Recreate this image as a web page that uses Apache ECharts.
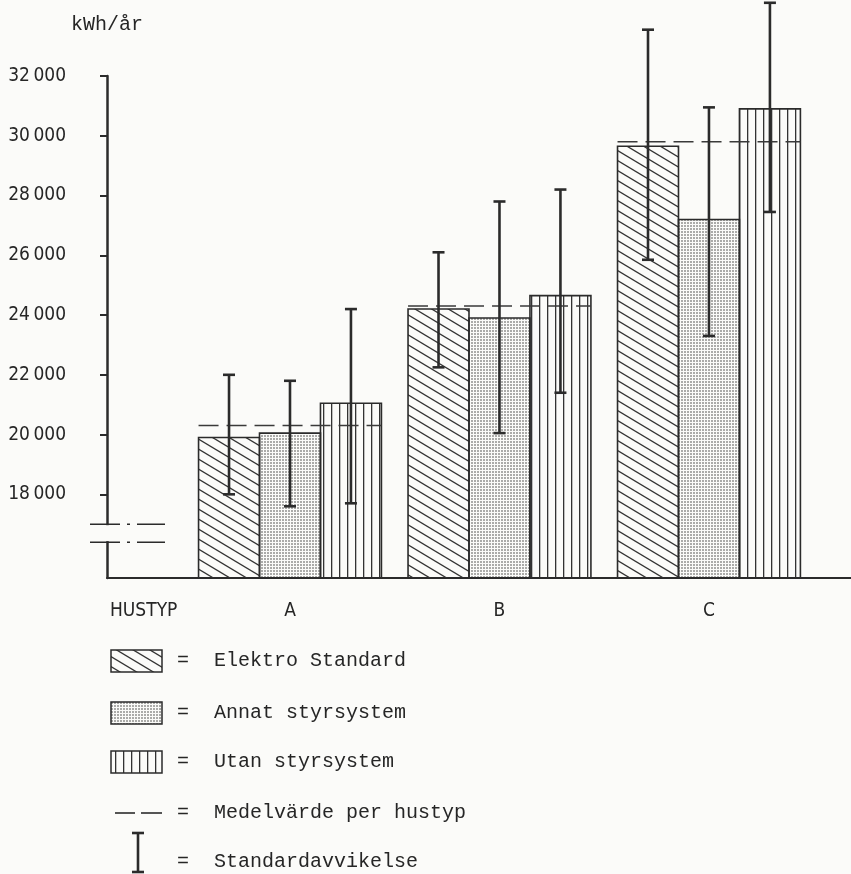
<!DOCTYPE html>
<html><head><meta charset="utf-8">
<script src="https://cdn.jsdelivr.net/npm/echarts@6/dist/echarts.min.js"></script>
<style>html,body{margin:0;padding:0;background:#fbfbf9}#c{width:851px;height:874px}</style>
</head><body><div id="c"></div>
<script>
// ---- data ----
const categories = ['A', 'B', 'C'];
const seriesNames = ['Elektro Standard', 'Annat styrsystem', 'Utan styrsystem'];
const elektro = [19900, 24200, 29650];
const annat   = [20050, 23900, 27200];
const utan    = [21050, 24650, 30900];
const medel   = [20300, 24300, 29800];
const elektroSdLow  = [18000, 22250, 25850];
const elektroSdHigh = [22000, 26100, 33550];
const annatSdLow    = [17600, 20050, 23300];
const annatSdHigh   = [21800, 27800, 30950];
const utanSdLow     = [17700, 21400, 27450];
const utanSdHigh    = [24200, 28200, 34450];
const yTicks = [18000, 20000, 22000, 24000, 26000, 28000, 30000, 32000];
const yTitle = 'kWh/år';
const xTitle = 'HUSTYP';
const meanName = 'Medelvärde per hustyp';
const sdName = 'Standardavvikelse';
const breakValues = [17000, 16400];

// ---- layout/style ----
const Y_MIN = 15200, Y_MAX = 32000;
const X_MIN = -0.8735, X_MAX = 2.678;
const BAR = 0.291;
const INK = '#2b2b2b';
const TXT = '#262626';
const SANS = "'Liberation Sans Narrow','DejaVu Sans Condensed','Liberation Sans',sans-serif";
const MONO = "'Liberation Mono','DejaVu Sans Mono',monospace";

function makeCanvas(w, h, draw) {
  const c = document.createElement('canvas'); c.width = w; c.height = h;
  const g = c.getContext('2d'); draw(g); return c;
}
const hatchImg = makeCanvas(50, 30, g => {
  g.strokeStyle = '#333'; g.lineWidth = 1.3;
  for (let k = -5; k <= 5; k++) { g.beginPath(); g.moveTo(-10, k * 10 - 6); g.lineTo(60, k * 10 + 36); g.stroke(); }
});
const dotImg = makeCanvas(3, 3, g => { g.fillStyle = 'rgba(60,60,60,0.42)'; g.fillRect(0, 0, 2, 2); });
const vertImg = makeCanvas(8, 4, g => { g.fillStyle = '#333'; g.fillRect(3, 0, 1.3, 4); });
const patterns = [
  { image: hatchImg, repeat: 'repeat' },
  { image: dotImg, repeat: 'repeat' },
  { image: vertImg, repeat: 'repeat' }
];

function barSeries(idx, values) {
  return {
    type: 'custom', name: seriesNames[idx], z: 2, clip: false,
    data: values.map((v, i) => [i, v]),
    renderItem(params, api) {
      const x = api.value(0) + (idx - 1) * BAR;
      const p0 = api.coord([x - BAR / 2, api.value(1)]);
      const p1 = api.coord([x + BAR / 2, Y_MIN]);
      return { type: 'rect', shape: { x: p0[0], y: p0[1], width: p1[0] - p0[0], height: p1[1] - p0[1] },
        style: { fill: patterns[idx], stroke: INK, lineWidth: 1.6 } };
    }
  };
}

const sdRows = [];
[[elektroSdLow, elektroSdHigh], [annatSdLow, annatSdHigh], [utanSdLow, utanSdHigh]].forEach((pair, idx) => {
  pair[0].forEach((lo, i) => sdRows.push([i, idx, lo, pair[1][i]]));
});

const chart = echarts.init(document.getElementById('c'));
chart.setOption({
  backgroundColor: '#fbfbf9',
  animation: false,
  grid: { left: 107, right: 0, top: 76, bottom: 296, containLabel: false, outerBoundsMode: 'none' },
  xAxis: {
    type: 'value', min: X_MIN, max: X_MAX,
    axisLine: { show: true, onZero: false, lineStyle: { color: INK, width: 2 } },
    axisTick: { show: false }, splitLine: { show: false },
    axisLabel: { customValues: [0, 1, 2], formatter: v => categories[Math.round(v)], margin: 24,
      fontSize: 19, fontFamily: SANS, color: TXT },
    name: xTitle, nameLocation: 'start', nameGap: -3,
    nameTextStyle: { align: 'left', verticalAlign: 'top', padding: [24, 0, 0, 0], fontSize: 19, fontFamily: SANS, color: TXT }
  },
  yAxis: {
    type: 'value', min: Y_MIN, max: Y_MAX,
    axisLine: { show: true, onZero: false, lineStyle: { color: INK, width: 2.5 } },
    axisTick: { show: true, customValues: yTicks, length: 7, lineStyle: { color: INK, width: 2 } },
    splitLine: { show: false },
    axisLabel: { customValues: yTicks, margin: 41, fontSize: 19, fontFamily: SANS, color: TXT,
      formatter: v => String(Math.floor(v / 1000)) + '\u2009000' },
    name: yTitle, nameLocation: 'end', nameGap: 41,
    nameTextStyle: { fontSize: 20, fontFamily: MONO, color: TXT, align: 'center' }
  },
  series: [
    barSeries(0, elektro), barSeries(1, annat), barSeries(2, utan),
    {
      type: 'custom', name: meanName, z: 3, clip: false,
      data: medel.map((v, i) => [i, v]),
      renderItem(params, api) {
        const a = api.coord([api.value(0) - 1.5 * BAR, api.value(1)]);
        const b = api.coord([api.value(0) + 1.5 * BAR, api.value(1)]);
        return { type: 'line', shape: { x1: a[0], y1: a[1], x2: b[0], y2: b[1] },
          style: { stroke: '#3a3a3a', lineWidth: 1.5, lineDash: [20, 8] } };
      }
    },
    {
      type: 'custom', name: sdName, z: 4, clip: false,
      data: sdRows, encode: { x: 0, y: [2, 3] },
      renderItem(params, api) {
        const x = api.value(0) + (api.value(1) - 1) * BAR;
        const t = api.coord([x, api.value(3)]);
        const b = api.coord([x, api.value(2)]);
        const s = { stroke: INK, lineWidth: 2.6 };
        return { type: 'group', children: [
          { type: 'line', shape: { x1: t[0], y1: t[1], x2: b[0], y2: b[1] }, style: s },
          { type: 'line', shape: { x1: t[0] - 6, y1: t[1], x2: t[0] + 6, y2: t[1] }, style: s },
          { type: 'line', shape: { x1: b[0] - 6, y1: b[1], x2: b[0] + 6, y2: b[1] }, style: s }
        ] };
      }
    }
  ]
});

// axis break marks, positioned through the axis scale
const yb1 = chart.convertToPixel({ yAxisIndex: 0 }, breakValues[0]);
const yb2 = chart.convertToPixel({ yAxisIndex: 0 }, breakValues[1]);
const ax = chart.convertToPixel({ xAxisIndex: 0 }, X_MIN);
const breakDash = { stroke: INK, lineWidth: 1.5, lineDash: [30, 7, 3, 7, 30] };

// legend rows
const legendRows = [
  { kind: 'swatch', idx: 0, y: 661, text: seriesNames[0] },
  { kind: 'swatch', idx: 1, y: 713, text: seriesNames[1] },
  { kind: 'swatch', idx: 2, y: 762, text: seriesNames[2] },
  { kind: 'dash', y: 813, text: meanName },
  { kind: 'sd', y: 862, text: sdName }
];
const graphics = [
  { type: 'rect', shape: { x: ax - 4, y: yb1 + 1, width: 8, height: yb2 - yb1 - 2 }, style: { fill: '#fbfbf9' }, z: 10 },
  { type: 'line', shape: { x1: ax - 17, y1: yb1, x2: ax + 58, y2: yb1 }, style: breakDash, z: 11 },
  { type: 'line', shape: { x1: ax - 17, y1: yb2, x2: ax + 58, y2: yb2 }, style: breakDash, z: 11 }
];
legendRows.forEach(r => {
  if (r.kind === 'swatch') {
    graphics.push({ type: 'rect', shape: { x: 111, y: r.y - 11, width: 51, height: 22 },
      style: { fill: patterns[r.idx], stroke: INK, lineWidth: 1.5 } });
  } else if (r.kind === 'dash') {
    graphics.push({ type: 'line', shape: { x1: 115, y1: r.y, x2: 135, y2: r.y }, style: { stroke: INK, lineWidth: 1.6 } });
    graphics.push({ type: 'line', shape: { x1: 141, y1: r.y, x2: 162, y2: r.y }, style: { stroke: INK, lineWidth: 1.6 } });
  } else {
    const s = { stroke: INK, lineWidth: 2.6 };
    graphics.push({ type: 'line', shape: { x1: 138, y1: 833, x2: 138, y2: 872 }, style: s });
    graphics.push({ type: 'line', shape: { x1: 132, y1: 833, x2: 144, y2: 833 }, style: s });
    graphics.push({ type: 'line', shape: { x1: 132, y1: 872, x2: 144, y2: 872 }, style: s });
  }
  graphics.push({ type: 'text', x: 183, y: r.y, style: { text: '=', font: '20px ' + MONO, fill: TXT, align: 'center', verticalAlign: 'middle' } });
  graphics.push({ type: 'text', x: 214, y: r.y, style: { text: r.text, font: '20px ' + MONO, fill: TXT, align: 'left', verticalAlign: 'middle' } });
});
chart.setOption({ graphic: graphics });
</script></body></html>
